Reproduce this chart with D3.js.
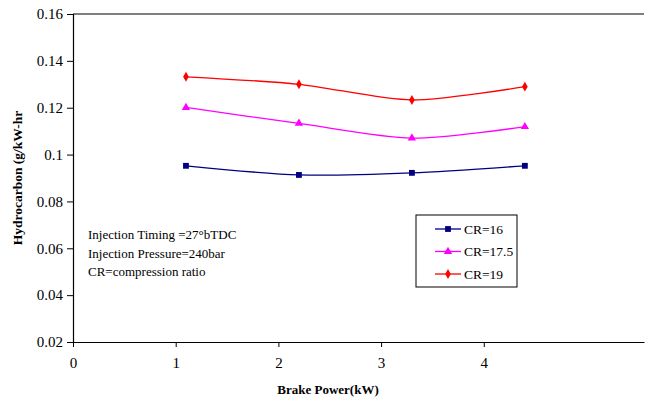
<!DOCTYPE html>
<html>
<head>
<meta charset="utf-8">
<script src="https://cdn.jsdelivr.net/npm/d3@7"></script>
<style>
  body { margin: 0; background: #fff; }
  svg text { font-family: "Liberation Serif", "Times New Roman", Times, serif !important; fill: #000; }
</style>
</head>
<body>
<div id="vis"></div>
<script>
// Datos
const brakePower = [1.1, 2.2, 3.3, 4.4];
const cr16 = [0.0952, 0.0913, 0.0922, 0.0952];
const cr175 = [0.1201, 0.1133, 0.1070, 0.1119];
const cr19 = [0.1332, 0.1300, 0.1233, 0.1290];
const seriesNames = ["CR=16", "CR=17.5", "CR=19"];
const xTicks = [0, 1, 2, 3, 4];
const yTicks = [0.02, 0.04, 0.06, 0.08, 0.1, 0.12, 0.14, 0.16];
const notes = ["Injection Timing =27°bTDC", "Injection Pressure=240bar", "CR=compression ratio"];

const WIDTH = 645, HEIGHT = 401;
const margin = { top: 14, right: 1, bottom: 59, left: 73 };

const svg = d3.select("#vis").append("svg")
  .attr("width", WIDTH).attr("height", HEIGHT);

const x = d3.scaleLinear().domain([0, 5.56]).range([margin.left, WIDTH - margin.right]);
const y = d3.scaleLinear().domain([0.02, 0.16]).range([HEIGHT - margin.bottom, margin.top]);

// línea superior
svg.append("line")
  .attr("x1", x(0)).attr("x2", WIDTH - margin.right)
  .attr("y1", y(0.16)).attr("y2", y(0.16))
  .attr("stroke", "#000").attr("stroke-width", 1.2);

// eje y
const yAxis = svg.append("g")
  .attr("transform", `translate(${x(0)},0)`)
  .call(d3.axisLeft(y).tickValues(yTicks).tickSize(6).tickPadding(4)
    .tickFormat(d => d3.format("~g")(d)));
yAxis.select(".domain").attr("stroke-width", 1.2);
yAxis.selectAll("text").attr("font-size", 15);

// eje x
const xAxis = svg.append("g")
  .attr("transform", `translate(0,${y(0.02)})`)
  .call(d3.axisBottom(x).tickValues(xTicks).tickSize(5).tickPadding(10).tickSizeOuter(0)
    .tickFormat(d3.format("d")));
xAxis.select(".domain").attr("stroke-width", 1.2);
xAxis.selectAll("text").attr("font-size", 15);

// títulos de ejes
svg.append("text")
  .attr("transform", `translate(22,${(y(0.16) + y(0.02)) / 2}) rotate(-90)`)
  .attr("text-anchor", "middle")
  .attr("font-weight", "bold").attr("font-size", 13.5)
  .text("Hydrocarbon (g/kW-hr");

svg.append("text")
  .attr("x", 328).attr("y", 394)
  .attr("text-anchor", "middle")
  .attr("font-weight", "bold").attr("font-size", 13)
  .text("Brake Power(kW)");

// series
const series = [
  { name: seriesNames[0], values: cr16, color: "#000080", symbol: d3.symbolSquare, size: 34 },
  { name: seriesNames[1], values: cr175, color: "#FF00FF", symbol: d3.symbolTriangle, size: 30 },
  { name: seriesNames[2], values: cr19, color: "#FF0000", symbol: d3.symbolDiamond, size: 28 }
];

const line = d3.line()
  .x((d, i) => x(brakePower[i]))
  .y(d => y(d))
  .curve(d3.curveCardinal.tension(0.2));

series.forEach(s => {
  svg.append("path")
    .attr("d", line(s.values))
    .attr("fill", "none")
    .attr("stroke", s.color)
    .attr("stroke-width", 1.3);

  svg.selectAll(null)
    .data(s.values)
    .enter()
    .append("path")
    .attr("d", d3.symbol().type(s.symbol).size(s.size))
    .attr("transform", (d, i) => `translate(${x(brakePower[i])},${y(d)})`)
    .attr("fill", s.color);
});

// notas
svg.selectAll(".note")
  .data(notes)
  .enter()
  .append("text")
  .attr("x", 88)
  .attr("y", (d, i) => 239 + i * 18.5)
  .attr("font-size", 13)
  .text(d => d);

// leyenda
const legend = svg.append("g").attr("transform", "translate(416,215)");
legend.append("rect")
  .attr("width", 101).attr("height", 72)
  .attr("fill", "#fff").attr("stroke", "#000").attr("stroke-width", 1);

series.forEach((s, i) => {
  const ly = 14 + i * 22.5;
  legend.append("line")
    .attr("x1", 19).attr("x2", 45)
    .attr("y1", ly).attr("y2", ly)
    .attr("stroke", s.color).attr("stroke-width", 1.3);
  legend.append("path")
    .attr("d", d3.symbol().type(s.symbol).size(s.size))
    .attr("transform", `translate(32,${ly})`)
    .attr("fill", s.color);
  legend.append("text")
    .attr("x", 48).attr("y", ly + 4.5)
    .attr("font-size", 13.5)
    .text(s.name);
});
</script>
</body>
</html>
